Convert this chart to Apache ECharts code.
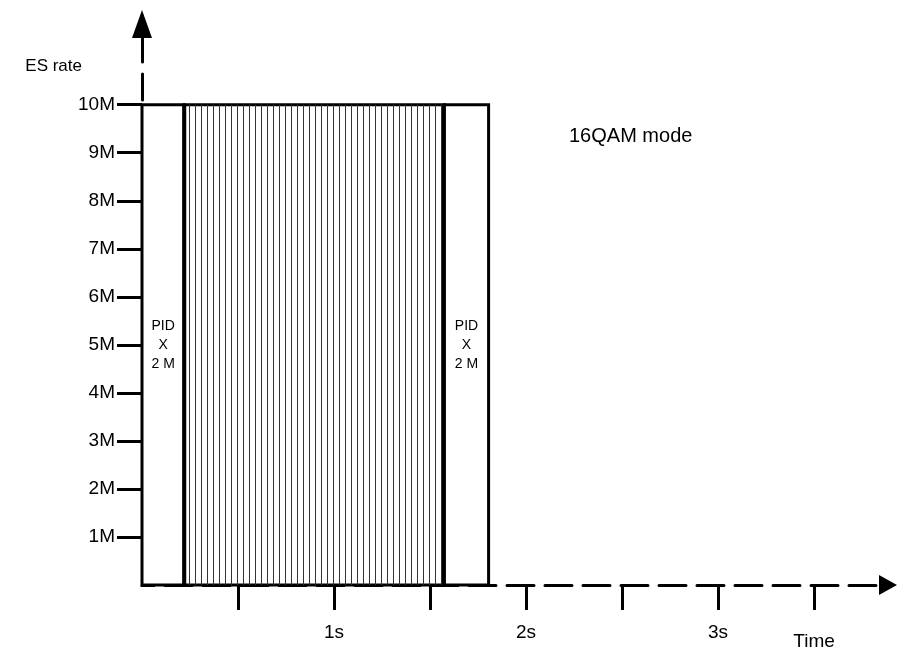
<!DOCTYPE html>
<html>
<head>
<meta charset="utf-8">
<script src="https://cdn.jsdelivr.net/npm/echarts@6/dist/echarts.min.js"></script>
<style>
  html, body { margin: 0; padding: 0; background: #fff; }
  #chart { width: 897px; height: 651px; }
</style>
</head>
<body>
<div id="chart"></div>
<script>
// y axis: ES rate in M, ticks 1M..10M
const rateTicks = [1, 2, 3, 4, 5, 6, 7, 8, 9, 10];
// x axis: time in seconds, tick every half second
const timeTicks = [0.5, 1, 1.5, 2, 2.5, 3, 3.5];
const timeLabels = { 1: '1s', 2: '2s', 3: '3s', 3.5: 'Time' };
// blocks: [start s, end s, rate M, kind]
const blocks = [
  [0, 0.22, 10, 'pid'],
  [0.22, 1.575, 10, 'fill'],
  [1.575, 1.805, 10, 'pid']
];
const pidText = 'PID\nX\n2 M';

const FONT = 'Liberation Sans, Arial, sans-serif';
const chart = echarts.init(document.getElementById('chart'), null, { renderer: 'canvas' });

// 画矩形块，中间的块用竖线填充
function renderBlock(params, api) {
  const start = api.value(0), end = api.value(1), rate = api.value(2);
  const kind = blocks[params.dataIndex][3];
  const p0 = api.coord([start, rate]);
  const p1 = api.coord([end, 0]);
  const x = p0[0], y = p0[1], w = p1[0] - p0[0], h = p1[1] - p0[1];
  const children = [{
    type: 'rect',
    shape: { x: x, y: y, width: w, height: h },
    style: { fill: '#fff', stroke: '#000', lineWidth: 3 }
  }];
  if (kind === 'fill') {
    for (let lx = x + 5; lx < x + w - 2; lx += 6) {
      children.push({
        type: 'line',
        shape: { x1: Math.round(lx) + 0.5, y1: y, x2: Math.round(lx) + 0.5, y2: y + h },
        style: { stroke: '#333', lineWidth: 1 }
      });
    }
    children.push({
      type: 'line',
      shape: { x1: x, y1: y, x2: x, y2: y + h },
      style: { stroke: '#000', lineWidth: 4 }
    });
    children.push({
      type: 'line',
      shape: { x1: x + w, y1: y, x2: x + w, y2: y + h },
      style: { stroke: '#000', lineWidth: 5 }
    });
  } else {
    children.push({
      type: 'text',
      style: {
        x: x + w / 2, y: y + h / 2, text: pidText,
        align: 'center', verticalAlign: 'middle',
        font: '14px ' + FONT, lineHeight: 19, fill: '#000'
      }
    });
  }
  return { type: 'group', children: children };
}

const option = {
  animation: false,
  backgroundColor: '#fff',
  grid: { left: 142, right: 9, top: 24, bottom: 65 },
  xAxis: {
    type: 'value',
    min: 0,
    max: 3.885,
    splitLine: { show: false },
    axisLine: {
      symbol: ['none', 'triangle'],
      symbolSize: [20, 18],
      lineStyle: { color: '#000', width: 3, type: [27, 11], dashOffset: 15 }
    },
    axisTick: {
      customValues: timeTicks,
      length: 25,
      lineStyle: { color: '#000', width: 3 }
    },
    axisLabel: {
      customValues: [1, 2, 3, 3.5],
      margin: 38,
      color: '#000',
      fontSize: 19,
      fontFamily: FONT,
      formatter: v => v === 3.5 ? '{t|Time}' : timeLabels[v],
      rich: { t: { fontSize: 19, fontFamily: FONT, color: '#000', padding: [9, 0, 0, 0] } }
    }
  },
  yAxis: {
    type: 'value',
    min: 0,
    max: 11.68,
    splitLine: { show: false },
    axisLine: {
      symbol: ['none', 'triangle'],
      symbolSize: [20, 28],
      lineStyle: { color: '#000', width: 3, type: [26, 12], dashOffset: 9 }
    },
    axisTick: {
      customValues: rateTicks,
      length: 25,
      lineStyle: { color: '#000', width: 3 }
    },
    axisLabel: {
      customValues: rateTicks,
      margin: 27,
      color: '#000',
      fontSize: 19,
      fontFamily: FONT,
      formatter: v => v + 'M'
    }
  },
  graphic: [
    { type: 'text', right: 897 - 82, top: 58, style: { text: 'ES rate', font: '17px ' + FONT, fill: '#000' } },
    { type: 'text', left: 569, top: 126, style: { text: '16QAM mode', font: '20px ' + FONT, fill: '#000' } }
  ],
  series: [{
    type: 'custom',
    renderItem: renderBlock,
    encode: { x: [0, 1], y: 2 },
    data: blocks.map(b => [b[0], b[1], b[2]]),
    z: 1
  }]
};

chart.setOption(option);
</script>
</body>
</html>
